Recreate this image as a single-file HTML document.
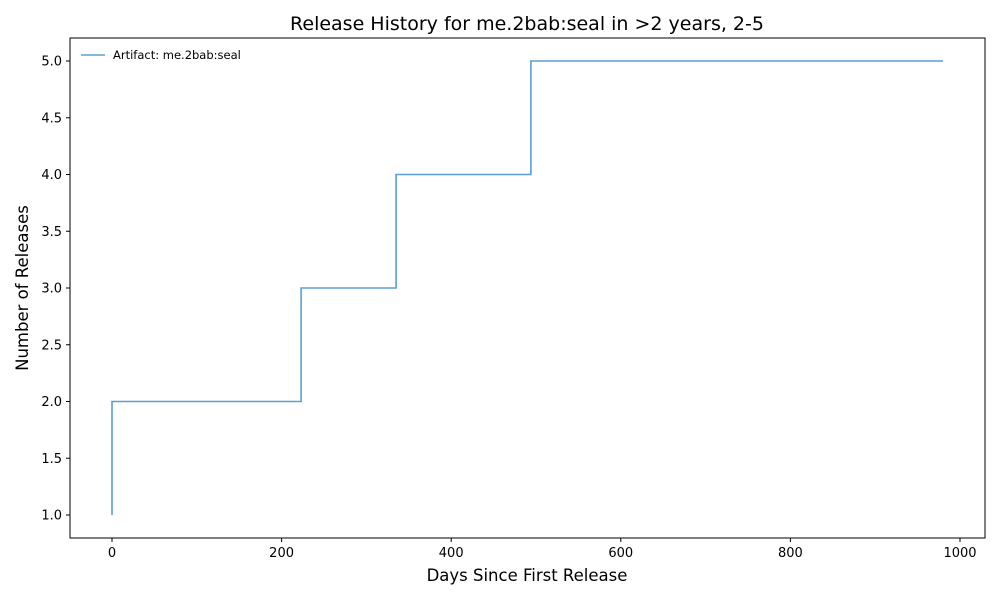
<!DOCTYPE html>
<html><head><meta charset="utf-8"><style>
body{margin:0;background:#fff;}
svg text{font-family:"DejaVu Sans","Liberation Sans",sans-serif;}
</style></head><body>
<svg id="chart" width="1000" height="600" xmlns="http://www.w3.org/2000/svg">
<rect width="1000" height="600" fill="#fff"/>
<text x="527" y="30" font-size="19" text-anchor="middle">Release History for me.2bab:seal in &gt;2 years, 2-5</text>
<g id="xt"></g><g id="yt"></g>
<path id="line" fill="none" stroke="#5a9fd0" stroke-width="1.6"/>
<rect x="70" y="38" width="915" height="500" fill="none" stroke="#000" stroke-width="1"/>
<text x="527" y="581" font-size="16.5" text-anchor="middle">Days Since First Release</text>
<text transform="translate(28,288) rotate(-90)" font-size="16.5" text-anchor="middle">Number of Releases</text>
<g>
<line x1="81" y1="55" x2="105" y2="55" stroke="#5a9fd0" stroke-width="1.6"/>
<text x="113" y="59" font-size="11.5">Artifact: me.2bab:seal</text>
</g>
</svg>
<script>
const days=[0,0,223,335,494,980];
const releases=[1,2,3,4,5,5];
const xTicks=[0,200,400,600,800,1000];
const yTicks=[1.0,1.5,2.0,2.5,3.0,3.5,4.0,4.5,5.0];
const NS="http://www.w3.org/2000/svg";
const xs=d=>112+d*0.848;
const ys=v=>515-(v-1)*113.5;
let p="M"+xs(days[0])+","+ys(releases[0]);
for(let i=1;i<days.length;i++){p+=" L"+xs(days[i])+","+ys(releases[i-1])+" L"+xs(days[i])+","+ys(releases[i]);}
document.getElementById('line').setAttribute('d',p);
const xt=document.getElementById('xt'),yt=document.getElementById('yt');
xTicks.forEach(t=>{const x=xs(t);
const l=document.createElementNS(NS,'line');l.setAttribute('x1',x);l.setAttribute('x2',x);l.setAttribute('y1',538);l.setAttribute('y2',542);l.setAttribute('stroke','#000');


xt.appendChild(l);
const s=document.createElementNS(NS,'text');s.setAttribute('x',x);s.setAttribute('y',557);s.setAttribute('font-size','13');s.setAttribute('text-anchor','middle');s.textContent=t;


xt.appendChild(s);});
yTicks.forEach(t=>{const y=ys(t);
const l=document.createElementNS(NS,'line');l.setAttribute('x1',66);l.setAttribute('x2',70);l.setAttribute('y1',y);l.setAttribute('y2',y);l.setAttribute('stroke','#000');


yt.appendChild(l);
const s=document.createElementNS(NS,'text');s.setAttribute('x',62);s.setAttribute('y',y+4.5);s.setAttribute('font-size','13');s.setAttribute('text-anchor','end');s.textContent=t.toFixed(1);


yt.appendChild(s);});
</script>
</body></html>
